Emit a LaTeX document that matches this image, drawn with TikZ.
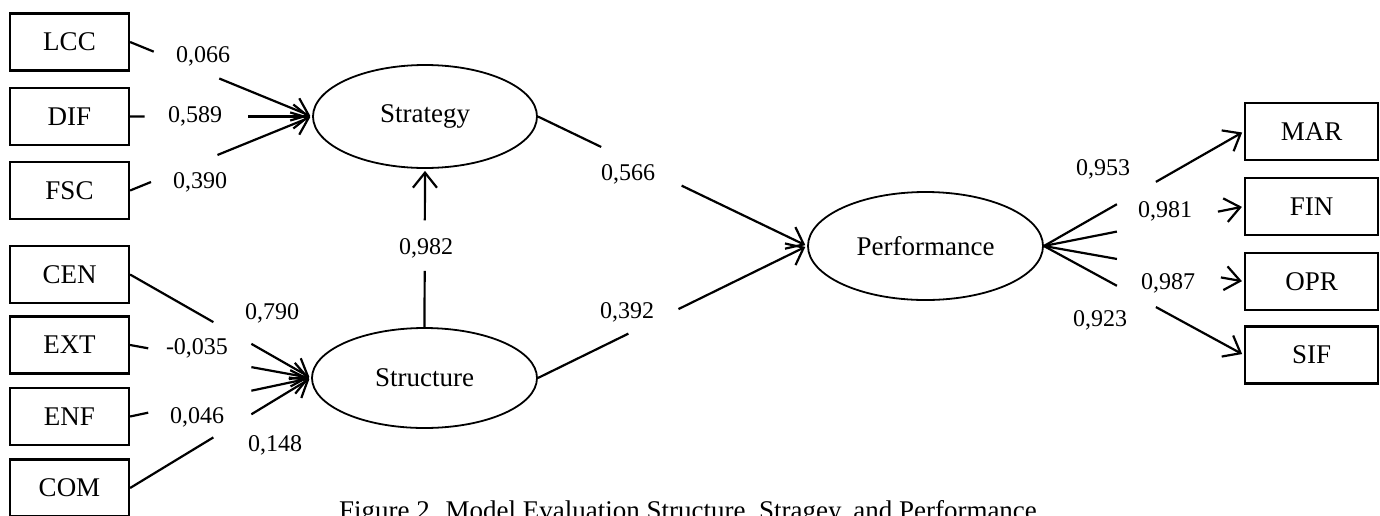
\documentclass[tikz,border=0pt]{standalone}
\usepackage{fontspec}
\setmainfont{Liberation Serif}
\usetikzlibrary{shapes.geometric,arrows.meta,calc}
\begin{document}
\begin{tikzpicture}[x=1pt,y=-1pt,
	box/.style={draw,line width=2.2pt,minimum width=119pt,minimum height=57pt,inner sep=0pt,font=\fontsize{27}{30}\selectfont},
	latent/.style={draw,ellipse,line width=1.8pt,inner sep=0pt,font=\fontsize{27}{30}\selectfont},
	coef/.style={inner sep=0pt,font=\fontsize{24}{28}\selectfont},
	link/.style={line width=2.2pt},
	tip/.style={link,-{Straight Barb[length=15pt,width=24pt]},shorten >=2pt}]
	\useasboundingbox (0,0) rectangle (1380,515);

	%%% Indicadores (izquierda y derecha)
	\foreach \name/\y in {LCC/42,DIF/116.5,FSC/190.5,CEN/274.5,EXT/345,ENF/416.5,COM/488} {
		\node[box] (\name) at (69.5,\y) {\name};
	}
	\foreach \name/\y in {MAR/131.5,FIN/206.5,OPR/281.5,SIF/355} {
		\node[box,minimum width=133pt] (\name) at (1311.5,\y) {\name};
	}

	%%% Variables latentes
	\node[latent,minimum width=224pt,minimum height=103pt] (Str) at (425,116.5) {Strategy};
	\node[latent,minimum width=225pt,minimum height=100pt] (Stc) at (424.5,378) {Structure};
	\node[latent,minimum width=235pt,minimum height=108pt] (Perf) at (925.5,246) {Performance};

	%%% Flechas hacia Strategy y Structure (cortadas en el hueco de los pesos)
	\foreach \src/\a/\b in {LCC/0.13/0.49,DIF/0.08/0.65,FSC/0.115/0.48} {
		\draw[link] (\src.east) -- ($(\src.east)!\a!(Str.west)$);
		\draw[tip] ($(\src.east)!\b!(Str.west)$) -- (Str.west);
	}
	\foreach \src/\a/\b in {CEN/0.46/0.67,EXT/0.10/0.67,ENF/0.10/0.67,COM/0.46/0.67} {
		\draw[link] (\src.east) -- ($(\src.east)!\a!(Stc.west)$);
		\draw[tip] ($(\src.east)!\b!(Stc.west)$) -- (Stc.west);
	}

	%%% Modelo estructural
	\draw[link] (Stc.north) -- ($(Stc.north)!0.356!(Str.south)$);
	\draw[tip] ($(Stc.north)!0.675!(Str.south)$) -- (Str.south);
	\draw[link] (Str.east) -- ($(Str.east)!0.235!(Perf.west)$);
	\draw[tip] ($(Str.east)!0.534!(Perf.west)$) -- (Perf.west);
	\draw[link] (Stc.east) -- ($(Stc.east)!0.336!(Perf.west)$);
	\draw[tip] ($(Stc.east)!0.522!(Perf.west)$) -- (Perf.west);

	%%% Performance hacia sus indicadores
	\foreach \dst/\b in {MAR/0.56,FIN/0.87,OPR/0.885,SIF/0.56} {
		\draw[link] (Perf.east) -- ($(Perf.east)!0.365!(\dst.west)$);
		\draw[tip] ($(Perf.east)!\b!(\dst.west)$) -- (\dst.west);
	}

	%%% Pesos
	\node[coef] (kLCC) at (203,56) {0,066};
	\node[coef] (kDIF) at (195,116) {0,589};
	\node[coef] (kFSC) at (200,182) {0,390};
	\node[coef] (kCEN) at (272,313) {0,790};
	\node[coef] (kEXT) at (197,348) {-0,035};
	\node[coef] (kENF) at (197,417) {0,046};
	\node[coef] (kCOM) at (275,445) {0,148};
	\node[coef] (kStc) at (426,248) {0,982};
	\node[coef] (kStrP) at (628,174) {0,566};
	\node[coef] (kStcP) at (627,312) {0,392};
	\node[coef] (kMAR) at (1103,169) {0,953};
	\node[coef] (kFIN) at (1165,211) {0,981};
	\node[coef] (kOPR) at (1168,283) {0,987};
	\node[coef] (kSIF) at (1100,320) {0,923};

	%%% Titulo (cortado abajo)
	\node[anchor=base,inner sep=0pt,font=\fontsize{27}{30}\selectfont] (caption) at (688,519)
		{Figure 2. Model Evaluation Structure, Stragey, and Performance};
\end{tikzpicture}
\end{document}
